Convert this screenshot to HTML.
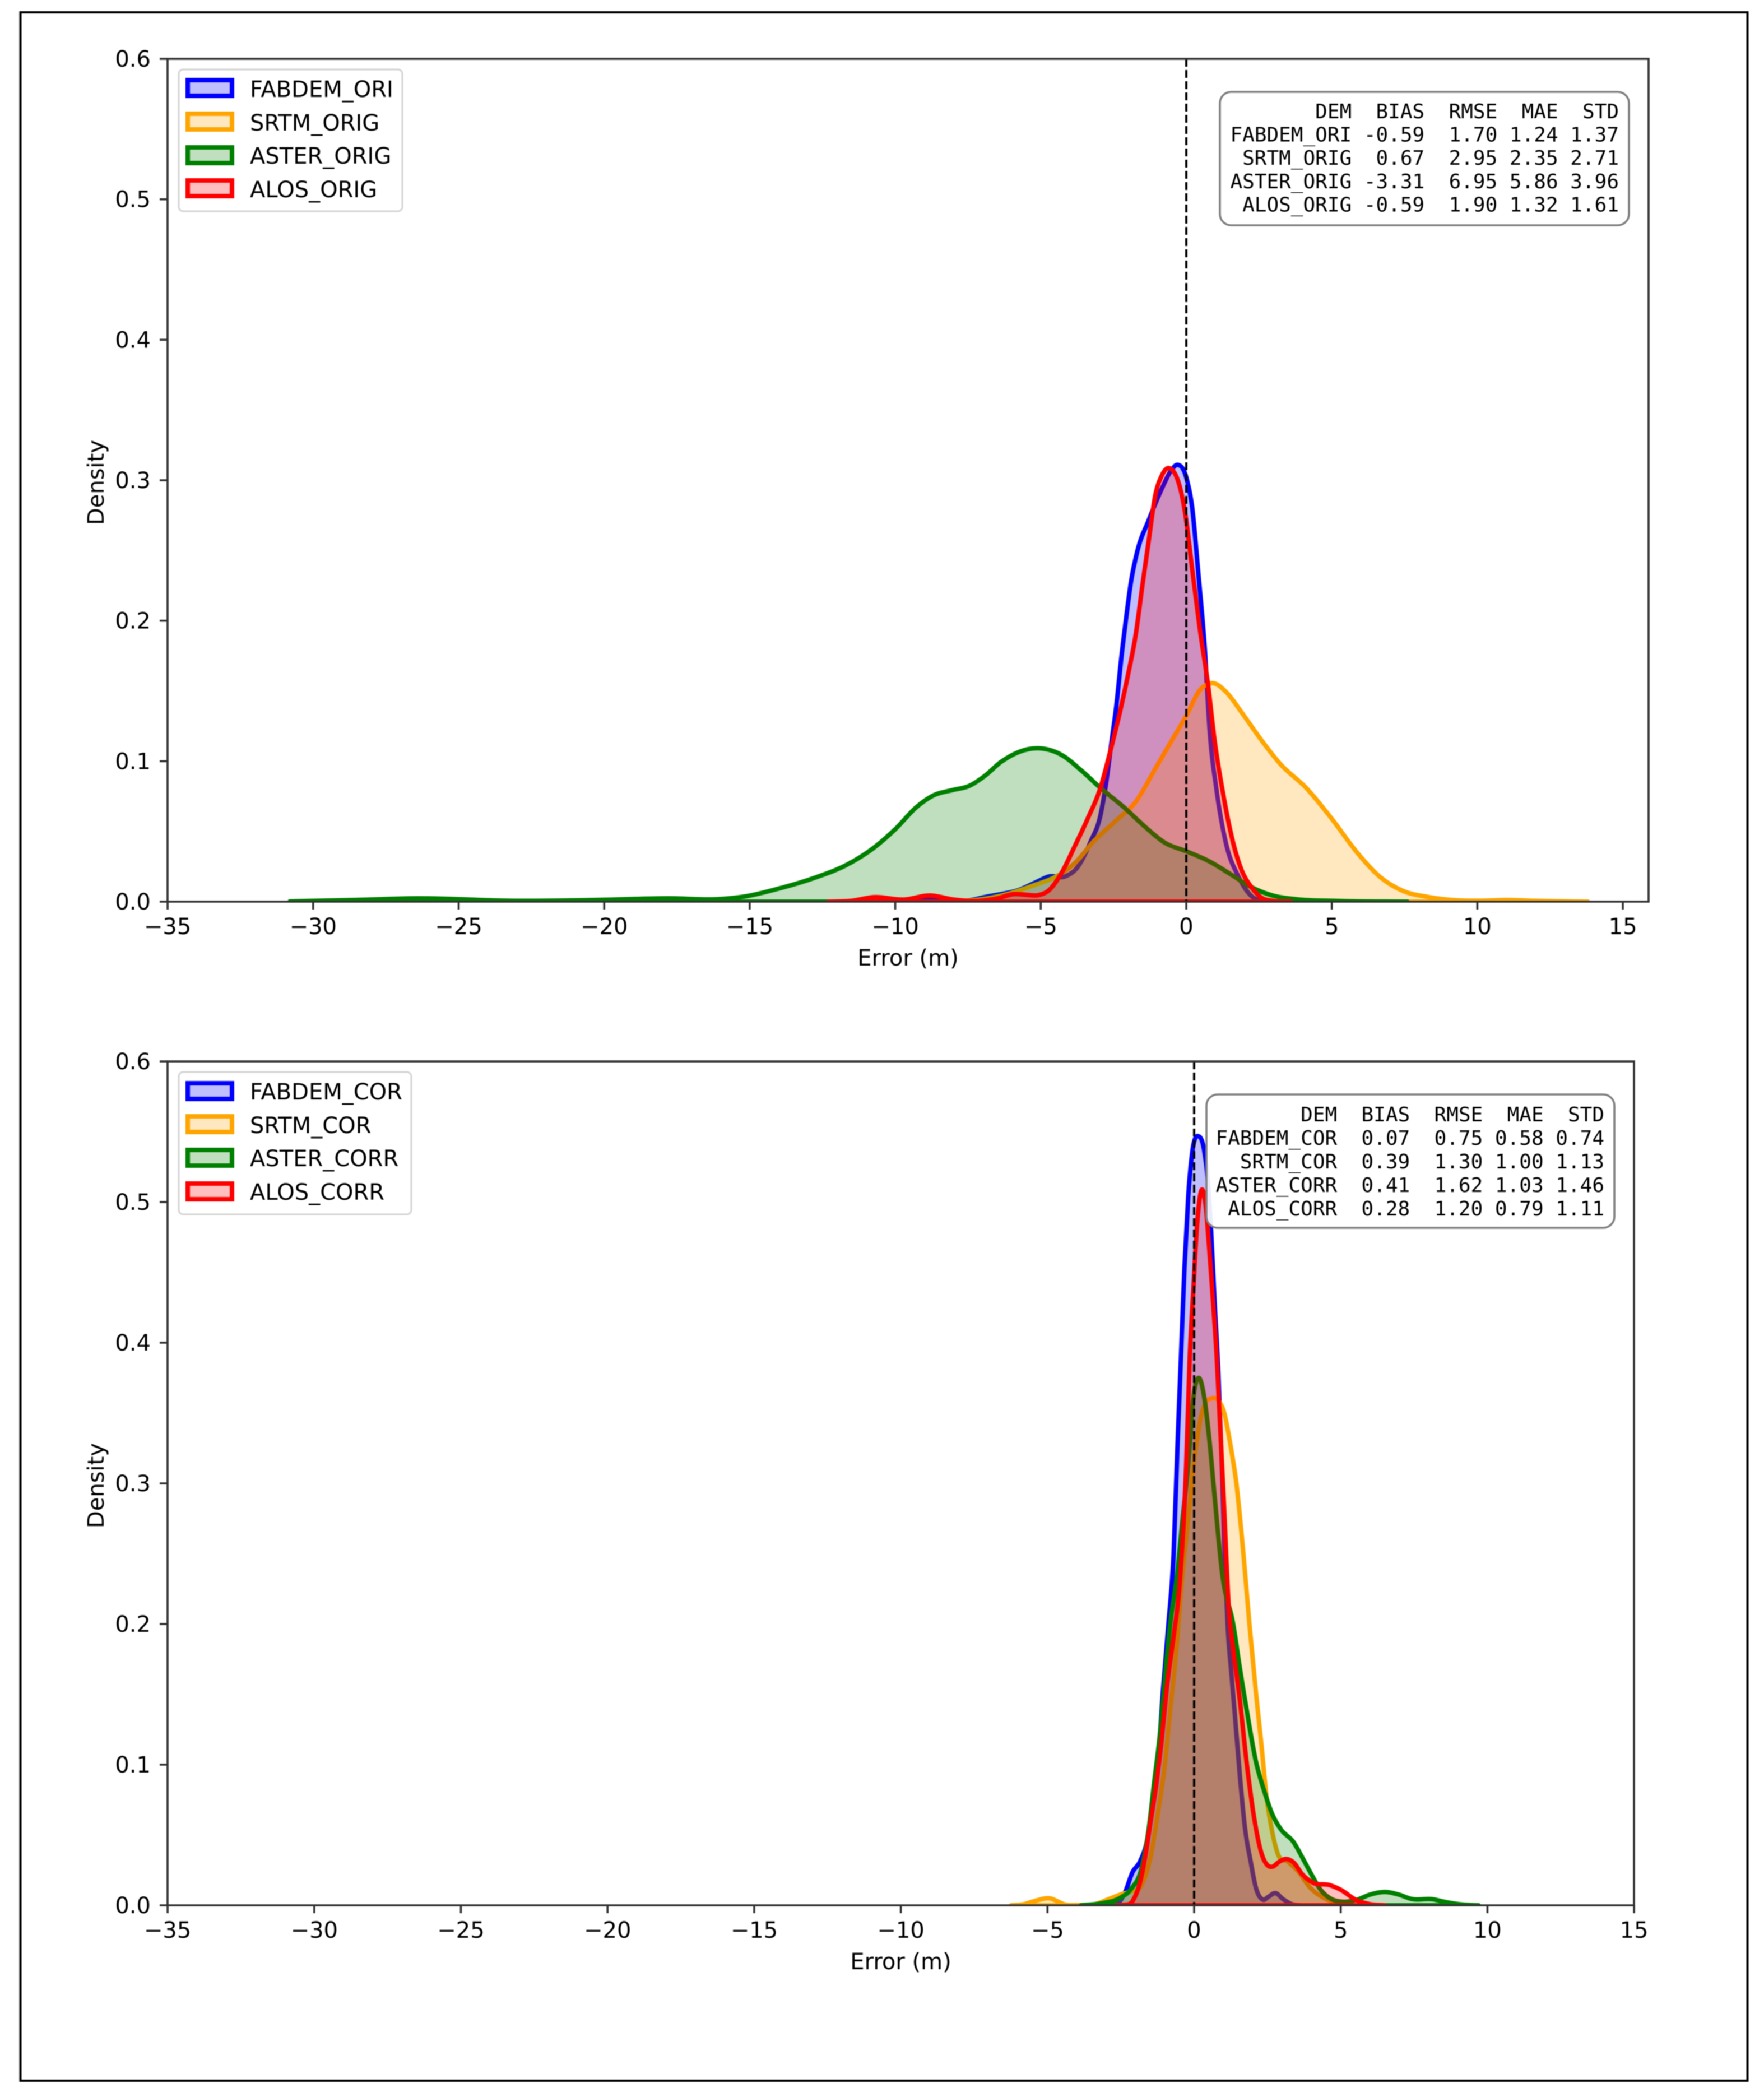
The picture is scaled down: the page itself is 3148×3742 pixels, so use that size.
<!DOCTYPE html>
<html lang="en">
<head>
<meta charset="utf-8">
<title>Error density of DEMs before and after correction</title>
<style>
html,body{margin:0;padding:0;background:#fff;width:3148px;height:3742px;overflow:hidden}
svg{display:block;filter:blur(0.7px)}
text{font-family:"DejaVu Sans","Liberation Sans",sans-serif;font-size:40px;fill:#000}
.mono{font-family:"DejaVu Sans Mono","Liberation Mono",monospace;font-size:36px;white-space:pre}
</style>
</head>
<body>
<svg id="figure" xmlns="http://www.w3.org/2000/svg" width="3148" height="3742" viewBox="0 0 3148 3742">
  <rect x="0" y="0" width="3148" height="3742" fill="#fff"/>
  <rect x="36.5" y="22" width="3082" height="3691" fill="none" stroke="#000" stroke-width="4"/>
  <defs>
    <clipPath id="clip-top"><rect x="299" y="105" width="2643" height="1504"/></clipPath>
    <clipPath id="clip-bottom"><rect x="299" y="1894" width="2617" height="1506"/></clipPath>
  </defs>

  <g id="panel-top"></g>
  <g id="panel-bottom"></g>

  <g>
    <rect x="319" y="124" width="399" height="253" rx="8" fill="#fff" fill-opacity="0.85" stroke="#d6d6d6" stroke-width="3.2"/>
    <g>
      <rect x="335" y="143" width="79" height="28" fill="#0000ff" fill-opacity="0.25" stroke="#0000ff" stroke-width="8"/>
      <text x="446" y="173">FABDEM_ORI</text>
    </g>
    <g>
      <rect x="335" y="203" width="79" height="28" fill="#ffa500" fill-opacity="0.25" stroke="#ffa500" stroke-width="8"/>
      <text x="446" y="233">SRTM_ORIG</text>
    </g>
    <g>
      <rect x="335" y="263" width="79" height="28" fill="#008000" fill-opacity="0.25" stroke="#008000" stroke-width="8"/>
      <text x="446" y="292">ASTER_ORIG</text>
    </g>
    <g>
      <rect x="335" y="322" width="79" height="28" fill="#ff0000" fill-opacity="0.25" stroke="#ff0000" stroke-width="8"/>
      <text x="446" y="352">ALOS_ORIG</text>
    </g>
  </g>

  <g>
    <rect x="2177" y="164" width="730" height="238" rx="20" fill="#fff" fill-opacity="0.92" stroke="#808080" stroke-width="3.6"/>
    <text class="mono" xml:space="preserve" x="2889" y="211" text-anchor="end">DEM  BIAS  RMSE  MAE  STD</text>
    <text class="mono" xml:space="preserve" x="2889" y="252.500" text-anchor="end">FABDEM_ORI -0.59  1.70 1.24 1.37</text>
    <text class="mono" xml:space="preserve" x="2889" y="294" text-anchor="end">SRTM_ORIG  0.67  2.95 2.35 2.71</text>
    <text class="mono" xml:space="preserve" x="2889" y="336" text-anchor="end">ASTER_ORIG -3.31  6.95 5.86 3.96</text>
    <text class="mono" xml:space="preserve" x="2889" y="377.500" text-anchor="end">ALOS_ORIG -0.59  1.90 1.32 1.61</text>
  </g>

  <g>
    <rect x="319" y="1913" width="415" height="254" rx="8" fill="#fff" fill-opacity="0.85" stroke="#d6d6d6" stroke-width="3.2"/>
    <g>
      <rect x="335" y="1933" width="79" height="28" fill="#0000ff" fill-opacity="0.25" stroke="#0000ff" stroke-width="8"/>
      <text x="446" y="1962">FABDEM_COR</text>
    </g>
    <g>
      <rect x="335" y="1992" width="79" height="28" fill="#ffa500" fill-opacity="0.25" stroke="#ffa500" stroke-width="8"/>
      <text x="446" y="2022">SRTM_COR</text>
    </g>
    <g>
      <rect x="335" y="2052" width="79" height="28" fill="#008000" fill-opacity="0.25" stroke="#008000" stroke-width="8"/>
      <text x="446" y="2081">ASTER_CORR</text>
    </g>
    <g>
      <rect x="335" y="2112" width="79" height="28" fill="#ff0000" fill-opacity="0.25" stroke="#ff0000" stroke-width="8"/>
      <text x="446" y="2141">ALOS_CORR</text>
    </g>
  </g>

  <g>
    <rect x="2153" y="1953" width="728" height="238" rx="20" fill="#fff" fill-opacity="0.92" stroke="#808080" stroke-width="3.6"/>
    <text class="mono" xml:space="preserve" x="2863" y="2001" text-anchor="end">DEM  BIAS  RMSE  MAE  STD</text>
    <text class="mono" xml:space="preserve" x="2863" y="2043" text-anchor="end">FABDEM_COR  0.07  0.75 0.58 0.74</text>
    <text class="mono" xml:space="preserve" x="2863" y="2085" text-anchor="end">SRTM_COR  0.39  1.30 1.00 1.13</text>
    <text class="mono" xml:space="preserve" x="2863" y="2127" text-anchor="end">ASTER_CORR  0.41  1.62 1.03 1.46</text>
    <text class="mono" xml:space="preserve" x="2863" y="2169" text-anchor="end">ALOS_CORR  0.28  1.20 0.79 1.11</text>
  </g>
</svg>

<script>
// Axis ticks
const xTicks = [-35, -30, -25, -20, -15, -10, -5, 0, 5, 10, 15];
const xTickLabels = ['\u221235', '\u221230', '\u221225', '\u221220', '\u221215', '\u221210', '\u22125', '0', '5', '10', '15'];
const yTicks = [0, 0.1, 0.2, 0.3, 0.4, 0.5, 0.6];
const yTickLabels = ['0.0', '0.1', '0.2', '0.3', '0.4', '0.5', '0.6'];

// Top panel: original DEMs
const fabdemOriError = [-9.8, -9.2, -8.8, -8.4, -7.6, -6.9, -6.37, -5.8, -5.15, -4.71, -4.16, -3.72, -3.28, -2.95, -2.78, -2.56, -2.4, -2.23, -2.06, -1.9, -1.68, -1.29, -0.85, -0.52, -0.3, 0, 0.2, 0.42, 0.64, 0.8, 1.03, 1.36, 1.8, 2.24, 2.57, 3.3];
const fabdemOriDensity = [0, 0.0006, 0.0018, 0.0006, 0.0005, 0.0034, 0.0054, 0.008, 0.014, 0.018, 0.018, 0.025, 0.043, 0.0615, 0.081, 0.115, 0.14, 0.174, 0.203, 0.2276, 0.2496, 0.2716, 0.2936, 0.307, 0.311, 0.302, 0.281, 0.2325, 0.179, 0.1226, 0.081, 0.042, 0.0176, 0.004, 0.0005, 0];

const srtmOrigError = [-8.5, -7.7, -7.03, -6.15, -5.26, -4.5, -3.83, -3.17, -2.4, -1.73, -1.07, -0.52, 0, 0.47, 0.92, 1.36, 1.9, 2.57, 3.23, 4.12, 5, 5.88, 6.66, 7.43, 8.3, 9.28, 10.2, 11, 12, 13.8];
const srtmOrigDensity = [0, 0.0005, 0.0017, 0.0054, 0.0115, 0.0176, 0.0274, 0.0432, 0.058, 0.0713, 0.0945, 0.114, 0.1324, 0.1507, 0.1556, 0.1495, 0.1348, 0.1153, 0.098, 0.081, 0.059, 0.0347, 0.0176, 0.0078, 0.0034, 0.001, 0.0007, 0.0012, 0.0006, 0];

const asterOrigError = [-30.8, -28.6, -26.4, -23.1, -20.3, -17.75, -16.1, -15.17, -14.06, -12.77, -11.66, -10.74, -10, -9.26, -8.7, -8.02, -7.47, -6.92, -6.37, -5.07, -4.27, -3.6, -2.95, -2.17, -1.4, -0.74, 0, 0.8, 1.58, 2.24, 3, 3.79, 5.2, 7.6];
const asterOrigDensity = [0.0002, 0.0012, 0.0024, 0.0006, 0.0012, 0.0024, 0.0018, 0.0037, 0.009, 0.017, 0.0263, 0.0383, 0.0516, 0.0675, 0.0755, 0.0795, 0.0823, 0.0896, 0.0994, 0.1092, 0.1043, 0.0933, 0.081, 0.0677, 0.053, 0.042, 0.0359, 0.0286, 0.0188, 0.0103, 0.0042, 0.0017, 0.0005, 0];

const alosOrigError = [-12.3, -11.5, -10.74, -9.7, -8.8, -8, -7.14, -6.48, -5.93, -5.49, -5.1, -4.71, -4.27, -3.83, -3.39, -2.95, -2.6, -2.28, -2, -1.73, -1.51, -1.29, -1.07, -0.85, -0.6, -0.02, 0.2, 0.47, 0.75, 0.97, 1.25, 1.58, 1.9, 2.24, 2.57, 3, 3.6];
const alosOrigDensity = [0, 0.0006, 0.0032, 0.0015, 0.0044, 0.0015, 0.0005, 0.0024, 0.0054, 0.0049, 0.0046, 0.0083, 0.021, 0.0396, 0.059, 0.081, 0.108, 0.135, 0.1617, 0.191, 0.225, 0.257, 0.2887, 0.303, 0.3087, 0.274, 0.2374, 0.1935, 0.154, 0.115, 0.0787, 0.0445, 0.0225, 0.0103, 0.003, 0.0005, 0];

// Bottom panel: corrected DEMs
const fabdemCorError = [-2.9, -2.58, -2.34, -2.1, -1.85, -1.6, -1.43, -1.24, -1.06, -0.88, -0.7, -0.57, -0.45, -0.33, -0.2, -0.085, 0.17, 0.34, 0.46, 0.58, 0.7, 0.83, 0.95, 1.04, 1.14, 1.27, 1.38, 1.56, 1.74, 1.93, 2.1, 2.35, 2.53, 2.78, 3.02, 3.33, 3.7];
const fabdemCorDensity = [0.0002, 0.0015, 0.01, 0.0236, 0.031, 0.0465, 0.069, 0.1, 0.153, 0.199, 0.25, 0.326, 0.389, 0.453, 0.504, 0.532, 0.5466, 0.537, 0.5168, 0.4785, 0.428, 0.377, 0.31, 0.25, 0.2, 0.165, 0.138, 0.092, 0.054, 0.031, 0.013, 0.004, 0.006, 0.0087, 0.0046, 0.0008, 0];

const srtmCorError = [-6.24, -5.8, -5.45, -4.96, -4.35, -4, -3.38, -2.89, -2.52, -2.16, -1.79, -1.49, -1.24, -1, -0.82, -0.63, -0.39, -0.2, -0.02, 0.1, 0.22, 0.4, 0.585, 0.83, 1.01, 1.25, 1.44, 1.68, 1.89, 2.1, 2.29, 2.47, 2.66, 2.84, 3.2, 3.57, 3.94, 4.42, 4.9, 5.5];
const srtmCorDensity = [0, 0.0008, 0.003, 0.005, 0.0003, 0.0002, 0.0008, 0.0046, 0.0076, 0.0099, 0.0145, 0.034, 0.065, 0.1, 0.138, 0.176, 0.237, 0.2753, 0.3134, 0.331, 0.3464, 0.3577, 0.3604, 0.359, 0.3513, 0.326, 0.3, 0.25, 0.199, 0.153, 0.115, 0.077, 0.0526, 0.0374, 0.031, 0.0236, 0.013, 0.0053, 0.0015, 0];

const asterCorError = [-3.86, -3.13, -2.52, -2.16, -1.79, -1.55, -1.36, -1.2, -0.82, -0.57, -0.39, -0.2, -0.02, 0.16, 0.34, 0.52, 0.71, 0.95, 1.34, 1.56, 1.8, 2.1, 2.41, 2.66, 2.96, 3.39, 3.69, 4, 4.3, 4.67, 5.03, 5.52, 6, 6.55, 6.98, 7.4, 8.14, 8.57, 9.17, 9.7];
const asterCorDensity = [0, 0.0015, 0.0053, 0.0114, 0.0267, 0.054, 0.0877, 0.115, 0.199, 0.2372, 0.2753, 0.3135, 0.3617, 0.375, 0.3617, 0.331, 0.288, 0.2372, 0.199, 0.1685, 0.138, 0.103, 0.08, 0.065, 0.054, 0.045, 0.034, 0.022, 0.0114, 0.0046, 0.0026, 0.0038, 0.0076, 0.0095, 0.0076, 0.0046, 0.0043, 0.0023, 0.0005, 0];

const alosCorError = [-2.65, -2.4, -2.1, -1.85, -1.67, -1.49, -1.3, -1.12, -0.94, -0.69, -0.51, -0.27, -0.15, -0.02, 0.1, 0.24, 0.4, 0.52, 0.65, 0.77, 0.89, 1.01, 1.19, 1.32, 1.56, 1.8, 2.05, 2.29, 2.53, 2.66, 2.9, 3.14, 3.39, 3.69, 4.06, 4.6, 5.03, 5.52, 6, 6.5];
const alosCorDensity = [0, 0.0003, 0.003, 0.016, 0.0343, 0.0587, 0.0846, 0.115, 0.153, 0.193, 0.2245, 0.3134, 0.3896, 0.4405, 0.4836, 0.508, 0.4964, 0.4657, 0.428, 0.39, 0.339, 0.288, 0.209, 0.184, 0.1456, 0.1, 0.0617, 0.0374, 0.028, 0.0274, 0.031, 0.033, 0.0305, 0.022, 0.016, 0.0145, 0.0107, 0.0038, 0.0008, 0];

const SVG_NS = 'http://www.w3.org/2000/svg';

function svgEl(tag, attrs, parent) {
  const el = document.createElementNS(SVG_NS, tag);
  for (const key in attrs) el.setAttribute(key, attrs[key]);
  parent.appendChild(el);
  return el;
}

// Smooth cubic path through data points, with three-point tangents in pixel space
function smoothPath(px, py) {
  const n = px.length;
  const d = [];
  const h = [];
  for (let i = 0; i < n - 1; i++) {
    h[i] = px[i + 1] - px[i];
    d[i] = (py[i + 1] - py[i]) / h[i];
  }
  const m = [d[0]];
  for (let i = 1; i < n - 1; i++) {
    m[i] = (h[i] * d[i - 1] + h[i - 1] * d[i]) / (h[i] + h[i - 1]);
  }
  m[n - 1] = d[n - 2];
  let path = 'M' + px[0].toFixed(1) + ' ' + py[0].toFixed(1);
  for (let i = 0; i < n - 1; i++) {
    const c1x = px[i] + h[i] / 3;
    const c1y = py[i] + m[i] * h[i] / 3;
    const c2x = px[i + 1] - h[i] / 3;
    const c2y = py[i + 1] - m[i + 1] * h[i] / 3;
    path += 'C' + c1x.toFixed(1) + ' ' + c1y.toFixed(1) + ' ' + c2x.toFixed(1) + ' ' + c2y.toFixed(1) + ' ' + px[i + 1].toFixed(1) + ' ' + py[i + 1].toFixed(1);
  }
  return path;
}

function drawPanel(cfg) {
  const root = document.getElementById(cfg.rootId);
  const xScale = v => cfg.zeroX + v * cfg.unitX;
  const yScale = v => cfg.bottom - v / 0.6 * (cfg.bottom - cfg.top);

  const marks = svgEl('g', { 'clip-path': 'url(#' + cfg.clipId + ')' }, root);
  
  

  cfg.series.forEach(s => {
    const px = s.error.map(xScale);
    const py = s.density.map(yScale);
    const d = smoothPath(px, py) + 'L' + px[px.length - 1].toFixed(1) + ' ' + cfg.bottom + 'L' + px[0].toFixed(1) + ' ' + cfg.bottom + 'Z';
    const curve = svgEl('path', { d: d, fill: s.color, 'fill-opacity': 0.25, stroke: s.color, 'stroke-width': 8, 'stroke-linejoin': 'round' }, marks);
    
    
  });

  const zeroLine = svgEl('line', { x1: xScale(0), x2: xScale(0), y1: cfg.top, y2: cfg.bottom, stroke: '#000', 'stroke-width': 4, 'stroke-dasharray': '14 6' }, root);
  
  

  const frame = svgEl('rect', { x: cfg.left, y: cfg.top, width: cfg.right - cfg.left, height: cfg.bottom - cfg.top, fill: 'none', stroke: '#333', 'stroke-width': 3.6 }, root);
  
  

  const xAxis = svgEl('g', {}, root);
  
  
  xTicks.forEach((t, i) => {
    const x = xScale(t);
    const tick = svgEl('line', { x1: x, x2: x, y1: cfg.bottom, y2: cfg.bottom + 14, stroke: '#333', 'stroke-width': 3.6 }, xAxis);
    
    
    const label = svgEl('text', { x: x, y: cfg.bottom + 58, 'text-anchor': 'middle' }, xAxis);
    label.textContent = xTickLabels[i];
    
    
  });
  const xTitle = svgEl('text', { x: (cfg.left + cfg.right) / 2, y: cfg.bottom + 114, 'text-anchor': 'middle' }, xAxis);
  xTitle.textContent = 'Error (m)';
  
  

  const yAxis = svgEl('g', {}, root);
  
  
  yTicks.forEach((t, i) => {
    const y = yScale(t);
    const tick = svgEl('line', { x1: cfg.left - 14, x2: cfg.left, y1: y, y2: y, stroke: '#333', 'stroke-width': 3.6 }, yAxis);
    
    
    const label = svgEl('text', { x: 269, y: y + 14, 'text-anchor': 'end' }, yAxis);
    label.textContent = yTickLabels[i];
    
    
  });
  const midY = (cfg.top + cfg.bottom) / 2 + 4;
  const yTitle = svgEl('text', { x: 185, y: midY, 'text-anchor': 'middle', transform: 'rotate(-90 185 ' + midY + ')' }, yAxis);
  yTitle.textContent = 'Density';
  
  
}

drawPanel({
  rootId: 'panel-top', clipId: 'clip-top',
  left: 299, right: 2942, top: 105, bottom: 1609, zeroX: 2117, unitX: 51.94,
  series: [
    { name: 'curve-fabdem-ori', color: '#0000ff', error: fabdemOriError, density: fabdemOriDensity },
    { name: 'curve-srtm-orig', color: '#ffa500', error: srtmOrigError, density: srtmOrigDensity },
    { name: 'curve-aster-orig', color: '#008000', error: asterOrigError, density: asterOrigDensity },
    { name: 'curve-alos-orig', color: '#ff0000', error: alosOrigError, density: alosOrigDensity }
  ]
});

drawPanel({
  rootId: 'panel-bottom', clipId: 'clip-bottom',
  left: 299, right: 2916, top: 1894, bottom: 3400, zeroX: 2131, unitX: 52.34,
  series: [
    { name: 'curve-fabdem-cor', color: '#0000ff', error: fabdemCorError, density: fabdemCorDensity },
    { name: 'curve-srtm-cor', color: '#ffa500', error: srtmCorError, density: srtmCorDensity },
    { name: 'curve-aster-corr', color: '#008000', error: asterCorError, density: asterCorDensity },
    { name: 'curve-alos-corr', color: '#ff0000', error: alosCorError, density: alosCorDensity }
  ]
});
</script>
</body>
</html>
